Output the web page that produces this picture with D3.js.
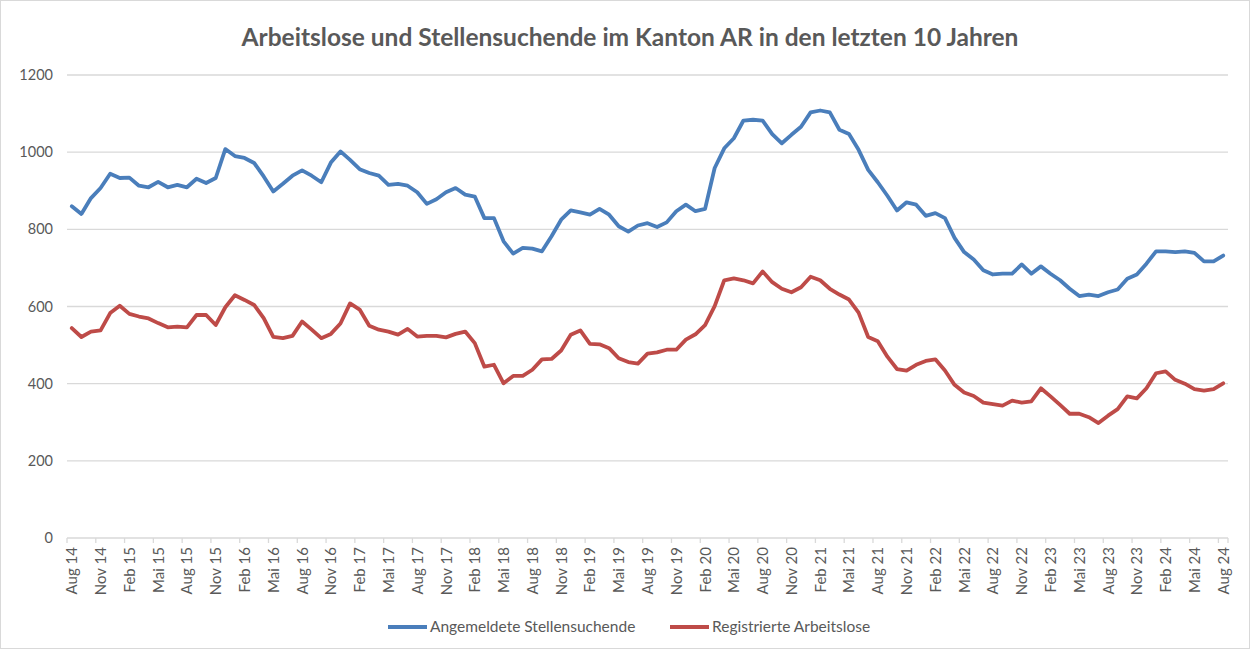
<!DOCTYPE html>
<html><head><meta charset="utf-8">
<script src="https://cdn.jsdelivr.net/npm/d3@7"></script>
<style>body{margin:0;background:#fff;}svg{display:block;}</style>
</head><body>
<svg id="c" width="1255" height="651"></svg>
<script>
const title = "Arbeitslose und Stellensuchende im Kanton AR in den letzten 10 Jahren";
const monthNames = ["Jan","Feb","Mrz","Apr","Mai","Jun","Jul","Aug","Sep","Okt","Nov","Dez"];
const startMonth = 7, startYear = 14, nMonths = 121;
const yTicks = [0,200,400,600,800,1000,1200];
const seriesNames = ["Angemeldete Stellensuchende","Registrierte Arbeitslose"];
const stellensuchende = [
860,840,881,907,944,933,934,913,909,923,909,915,909,931,920,933,1008,990,985,972,937,898,918,939,953,939,922,973,1002,980,
956,946,939,915,918,913,896,866,878,896,907,890,885,829,829,769,737,752,750,743,782,825,849,844,838,853,838,808,794,810,
816,806,818,847,864,847,853,959,1010,1036,1082,1084,1082,1047,1023,1045,1066,1103,1108,1103,1058,1047,1006,954,922,887,849,870,864,835,
842,829,778,741,722,694,683,685,685,709,685,704,685,668,646,627,631,627,637,644,672,683,711,743,743,741,743,739,717,717,732];
const arbeitslose = [
544,521,535,538,583,602,581,574,569,557,546,548,546,578,578,552,598,629,617,604,570,521,518,524,561,540,518,529,556,608,
592,550,540,535,527,542,522,524,524,520,529,535,505,444,449,401,420,420,436,463,464,486,527,538,503,502,492,466,456,452,
478,481,488,488,514,528,552,601,668,673,668,660,691,663,646,637,650,677,668,646,631,618,584,521,510,470,438,434,449,459,
463,434,397,377,368,351,347,343,356,351,354,388,367,345,322,322,313,298,317,334,367,362,388,427,432,410,400,386,382,386,401];
const colors = ["#4a7ebb","#be4b48"];

const categories = d3.range(nMonths).map(i => {
  const m = (startMonth + i) % 12, y = startYear + Math.floor((startMonth + i) / 12);
  return monthNames[m] + " " + y;
});

const svg = d3.select("#c");
const font = "Lato, 'Open Sans', sans-serif";
const grey = "#595959";
svg.append("rect").attr("x",0.5).attr("y",0.5).attr("width",1249).attr("height",648)
  .attr("fill","#fff").attr("stroke","#d9d9d9");

const x = d3.scaleBand().domain(d3.range(nMonths)).range([67,1228]).padding(0);
const y = d3.scaleLinear().domain([0,1200]).range([538,75]);

svg.append("text").attr("x",630).attr("y",46).attr("text-anchor","middle")
  .attr("font-family",font).attr("font-weight","bold").attr("font-size",24.5).attr("fill",grey).text(title);

// gridlines
svg.append("g").selectAll("line").data(yTicks.filter(d=>d>0)).join("line")
  .attr("x1",67).attr("x2",1228).attr("y1",d=>y(d)).attr("y2",d=>y(d))
  .attr("stroke","#d9d9d9").attr("stroke-width",1.3);

// y axis labels
const yAxis = svg.append("g").attr("transform","translate(67,0)")
  .call(d3.axisLeft(y).tickValues(yTicks).tickFormat(d3.format("d")).tickSize(0).tickPadding(14));
yAxis.select(".domain").remove();
yAxis.selectAll("text").attr("font-family",font).attr("font-size",14.5).attr("fill",grey);

// x axis
const labelIdx = d3.range(0,nMonths,3);
const xg = svg.append("g").attr("transform","translate(0,538)");
xg.append("line").attr("x1",67).attr("x2",1228).attr("stroke","#d9d9d9").attr("stroke-width",1.3);
xg.selectAll("line.tk").data(labelIdx.concat([nMonths])).join("line").attr("class","tk")
  .attr("x1",d=>d<nMonths?x(d):1228).attr("x2",d=>d<nMonths?x(d):1228).attr("y1",0).attr("y2",5)
  .attr("stroke","#d9d9d9").attr("stroke-width",1.3);
xg.selectAll("text").data(labelIdx).join("text")
  .attr("transform",d=>`translate(${x(d)+x.bandwidth()/2+5.5},9) rotate(-90)`)
  .attr("text-anchor","end").attr("font-family",font).attr("font-size",15).attr("fill",grey)
  .text(d=>categories[d]);

// lines
const line = d3.line().x((d,i)=>x(i)+x.bandwidth()/2).y(d=>y(d));
[stellensuchende, arbeitslose].forEach((s,k)=>{
  svg.append("path").datum(s).attr("d",line).attr("fill","none")
    .attr("stroke",colors[k]).attr("stroke-width",3.8).attr("stroke-linejoin","round").attr("stroke-linecap","round");
});

// legend
const legend = [{x:388,name:seriesNames[0],c:colors[0]},{x:670,name:seriesNames[1],c:colors[1]}];
const lg = svg.append("g");
legend.forEach(l=>{
  lg.append("line").attr("x1",l.x).attr("x2",l.x+39).attr("y1",627).attr("y2",627)
    .attr("stroke",l.c).attr("stroke-width",3.8);
  lg.append("text").attr("x",l.x+42).attr("y",632).attr("font-family",font).attr("font-size",15.5)
    .attr("fill",grey).text(l.name);
});
</script>
</body></html>
